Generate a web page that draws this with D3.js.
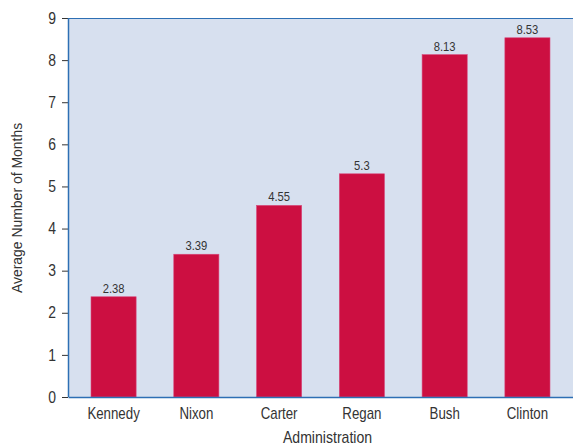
<!DOCTYPE html>
<html>
<head>
<meta charset="utf-8">
<script src="https://cdn.jsdelivr.net/npm/d3@7"></script>
<style>
  html, body { margin: 0; padding: 0; background: #ffffff; }
  svg { display: block; }
  text { font-family: "Liberation Sans", Arial, sans-serif; fill: #333333; }
</style>
</head>
<body>
<svg id="chart" width="573" height="446"></svg>
<script>
// Average number of months per administration
const administrations = ["Kennedy", "Nixon", "Carter", "Regan", "Bush", "Clinton"];
const avgMonths = [2.38, 3.39, 4.55, 5.3, 8.13, 8.53];
const yTicks = [0, 1, 2, 3, 4, 5, 6, 7, 8, 9];

const FONT = "'Liberation Sans', Arial, sans-serif";
const NARROW = 0.83; // horizontal squeeze for a condensed look

const svg = d3.select("#chart");
const margin = { top: 18, right: 0, bottom: 49, left: 68 };
const width = 573 - margin.left - margin.right;
const height = 446 - margin.top - margin.bottom;

const g = svg.append("g").attr("transform", `translate(${margin.left},${margin.top})`);

const x = d3.scaleBand()
  .domain(administrations)
  .range([0, width])
  .paddingInner(0.455)
  .paddingOuter(0.278);

const y = d3.scaleLinear().domain([0, 9]).range([height, 0]);

// plot background
g.append("rect")
  .attr("x", 0).attr("y", 0)
  .attr("width", width).attr("height", height)
  .attr("fill", "#d7e0ef");

// bars
g.selectAll("rect.bar")
  .data(administrations)
  .join("rect")
  .attr("class", "bar")
  .attr("x", d => x(d))
  .attr("y", (d, i) => y(avgMonths[i]))
  .attr("width", x.bandwidth())
  .attr("height", (d, i) => y(0) - y(avgMonths[i]))
  .attr("fill", "#cc0f41")
  .attr("stroke", "#d8467a")
  .attr("stroke-width", 0.6);

// value labels
g.selectAll("text.val")
  .data(administrations)
  .join("text")
  .attr("class", "val")
  .attr("transform", (d, i) =>
    `translate(${x(d) + x.bandwidth() / 2},${y(avgMonths[i]) - 4}) scale(0.9,1)`)
  .attr("text-anchor", "middle")
  .attr("font-size", 12.5)
  .text((d, i) => avgMonths[i]);

// axis lines (top, left, bottom)
const axisColor = "#2d6fb4";
g.append("line").attr("x1", 0).attr("x2", width).attr("y1", 0.5).attr("y2", 0.5)
  .attr("stroke", axisColor).attr("stroke-width", 1.2);

const yAxis = g.append("g")
  .call(d3.axisLeft(y).tickValues(yTicks).tickSize(6).tickFormat(d3.format("d")));
yAxis.select(".domain").remove();
yAxis.selectAll(".tick line").attr("stroke", "#333333");
yAxis.selectAll(".tick text")
  .attr("font-size", 16)
  .attr("x", -12 / 0.87)
  .attr("transform", "scale(0.87,1)")
  .attr("fill", "#333333")
  .style("font-family", FONT);

g.append("line").attr("x1", 0.5).attr("x2", 0.5).attr("y1", 0).attr("y2", height)
  .attr("stroke", axisColor).attr("stroke-width", 1.5);

const xAxis = g.append("g")
  .attr("transform", `translate(0,${height})`)
  .call(d3.axisBottom(x).tickSize(0).tickPadding(11));
xAxis.select(".domain").attr("stroke", axisColor).attr("stroke-width", 1.5);
xAxis.selectAll(".tick text")
  .attr("font-size", 16)
  .attr("transform", `scale(${NARROW},1)`)
  .attr("fill", "#333333")
  .style("font-family", FONT);

// axis titles
svg.append("text")
  .attr("transform", `translate(${margin.left + width / 2 + 7},443) scale(0.88,1)`)
  .attr("text-anchor", "middle")
  .attr("font-size", 16)
  .text("Administration");

svg.append("text")
  .attr("transform", `translate(22,208) rotate(-90) scale(0.9,1)`)
  .attr("text-anchor", "middle")
  .attr("font-size", 15.5)
  .text("Average Number of Months");
</script>
</body>
</html>
